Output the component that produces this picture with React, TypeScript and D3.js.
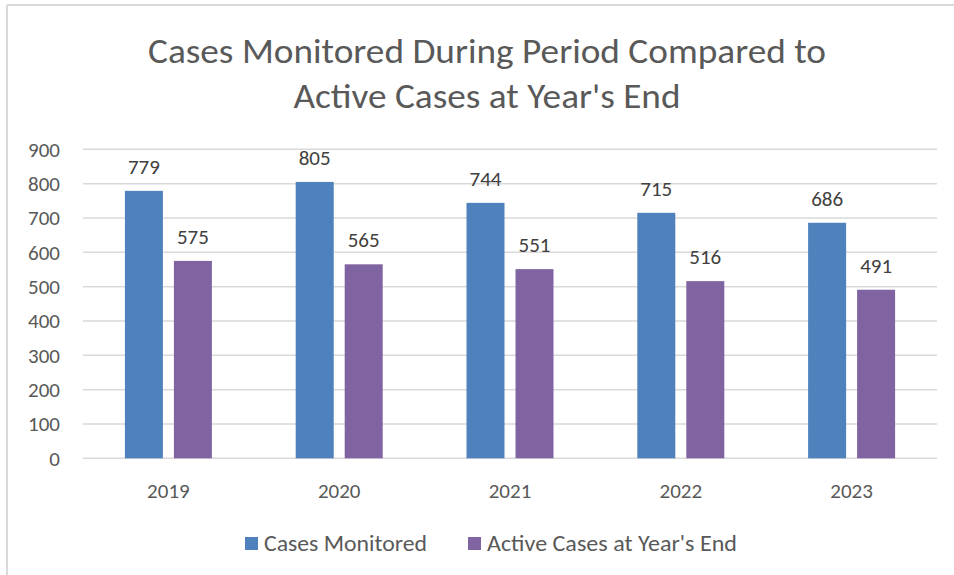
import { useEffect, useRef } from 'react';
import * as d3 from 'd3';

const years = ['2019', '2020', '2021', '2022', '2023'];
const seriesNames = ['Cases Monitored', "Active Cases at Year's End"];
const casesMonitored = [779, 805, 744, 715, 686];
const activeCases = [575, 565, 551, 516, 491];
const yTicks = [0, 100, 200, 300, 400, 500, 600, 700, 800, 900];
const titleLines = ['Cases Monitored During Period Compared to', "Active Cases at Year's End"];

const colors = ['#4F81BD', '#8064A2'];
const textColor = '#595959';
const gridColor = '#D9D9D9';
const font = "Carlito, Calibri, Lato, sans-serif";

export default function App() {
  const ref = useRef<SVGSVGElement>(null);

  useEffect(() => {
    const svg = d3.select(ref.current);
    svg.selectAll('*').remove();

    const margin = { left: 83, right: 17, top: 149.3, bottom: 116.7 };
    const width = 954;
    const height = 575;

    // frame (only left and top edges are visible in the crop)
    svg.append('line').attr('x1', 7).attr('x2', 7).attr('y1', 5).attr('y2', height).attr('stroke', gridColor).attr('stroke-width', 2);
    svg.append('line').attr('x1', 7).attr('x2', width).attr('y1', 5).attr('y2', 5).attr('stroke', gridColor).attr('stroke-width', 2);

    const x = d3.scaleBand().domain(years).range([margin.left, width - margin.right]);
    const y = d3.scaleLinear().domain([0, 900]).range([height - margin.bottom, margin.top]);

    const barW = 38;
    const barGap = 11;

    // title
    svg
      .append('g')
      .selectAll('text')
      .data(titleLines)
      .enter()
      .append('text')
      .attr('x', 487)
      .attr('y', (_, i) => 63 + i * 45)
      .attr('text-anchor', 'middle')
      .attr('font-family', font)
      .attr('font-weight', 300)
      .attr('font-size', 34)
      .attr('fill', textColor)
      .attr('textLength', (_, i) => (i === 0 ? 678 : 387))
      .attr('lengthAdjust', 'spacingAndGlyphs')
      .text((d) => d);

    // gridlines
    svg
      .append('g')
      .selectAll('line')
      .data(yTicks)
      .enter()
      .append('line')
      .attr('x1', margin.left)
      .attr('x2', width - margin.right)
      .attr('y1', (d) => y(d))
      .attr('y2', (d) => y(d))
      .attr('stroke', gridColor)
      .attr('stroke-width', 1.5);

    // y tick labels
    svg
      .append('g')
      .selectAll('text')
      .data(yTicks)
      .enter()
      .append('text')
      .attr('x', 60)
      .attr('y', (d) => y(d) + 7.5)
      .attr('text-anchor', 'end')
      .attr('font-family', font)
      .attr('font-size', 21)
      .attr('fill', textColor)
      .text((d) => d);

    const series = [casesMonitored, activeCases];
    series.forEach((values, si) => {
      const offset = si === 0 ? -barGap / 2 - barW : barGap / 2;
      const g = svg.append('g');
      g.selectAll('rect')
        .data(values)
        .enter()
        .append('rect')
        .attr('x', (_, i) => x(years[i])! + x.bandwidth() / 2 + offset)
        .attr('y', (d) => y(d))
        .attr('width', barW)
        .attr('height', (d) => y(0) - y(d))
        .attr('fill', colors[si]);
      g.selectAll('text')
        .data(values)
        .enter()
        .append('text')
        .attr('x', (_, i) => x(years[i])! + x.bandwidth() / 2 + offset + barW / 2)
        .attr('y', (d) => y(d) - 17)
        .attr('text-anchor', 'middle')
        .attr('font-family', font)
        .attr('font-size', 21)
        .attr('fill', '#404040')
        .text((d) => d);
    });

    // x labels
    svg
      .append('g')
      .selectAll('text')
      .data(years)
      .enter()
      .append('text')
      .attr('x', (d) => x(d)! + x.bandwidth() / 2)
      .attr('y', 498)
      .attr('text-anchor', 'middle')
      .attr('font-family', font)
      .attr('font-size', 21)
      .attr('fill', textColor)
      .text((d) => d);

    // legend
    const legendX = [245, 468];
    const legendW = [163, 250];
    const legend = svg.append('g');
    seriesNames.forEach((name, i) => {
      legend.append('rect').attr('x', legendX[i]).attr('y', 537).attr('width', 13).attr('height', 13).attr('fill', colors[i]);
      legend
        .append('text')
        .attr('x', legendX[i] + 19)
        .attr('y', 551)
        .attr('font-family', font)
        .attr('font-size', 22)
        .attr('fill', textColor)
        .attr('textLength', legendW[i])
        .attr('lengthAdjust', 'spacingAndGlyphs')
        .text(name);
    });
  }, []);

  return (
    <svg
      ref={ref}
      width={954}
      height={575}
      style={{ position: 'absolute', left: 0, top: 0, background: '#fff' }}
    />
  );
}
